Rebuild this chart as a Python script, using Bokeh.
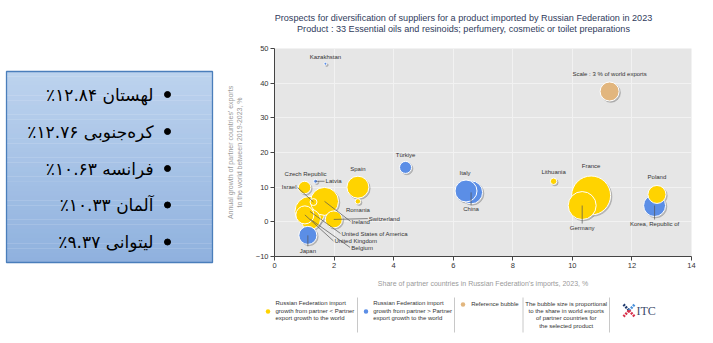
import math
from bokeh.plotting import figure
from bokeh.layouts import row, column
from bokeh.models import Range1d, ColumnDataSource, FixedTicker
from bokeh.core.properties import value
from bokeh.embed import file_html
from bokeh.resources import INLINE

# ---------------- data ----------------
countries = ["France", "Germany", "Lithuania", "Poland", "Korea, Republic of", "Italy", "China",
             "Türkiye", "Kazakhstan", "Spain", "Romania", "Latvia", "Czech Republic", "Israel",
             "Ireland", "Switzerland", "United States of America", "United Kingdom", "Belgium", "Japan"]
share_in_imports = [10.63, 10.33, 9.37, 12.84, 12.76, 6.43, 6.60,
                    4.40, 1.71, 2.80, 2.80, 1.38, 1.01, 1.31,
                    1.68, 1.99, 1.19, 1.02, 1.21, 1.12]
export_growth = [7.6, 4.7, 11.7, 7.9, 4.7, 8.9, 8.5,
                 15.7, 45.6, 10.0, 5.9, 11.7, 9.9, 5.7,
                 5.9, 0.7, 3.0, 2.0, 0.7, -3.9]
world_export_share = [12.6, 6.5, 0.35, 2.7, 4.0, 4.0, 4.4,
                      1.2, 0.07, 4.0, 0.25, 0.13, 1.3, 0.4,
                      6.5, 2.4, 7.5, 2.7, 3.3, 2.7]
import_growth_higher = [False, False, False, False, True, True, True,
                        True, True, False, False, True, False, False,
                        False, False, False, False, False, True]

ref_x, ref_y, ref_share = 11.25, 37.6, 3.0
ref_label = "Scale : 3 % of world exports"

x_ticks = [0, 2, 4, 6, 8, 10, 12, 14]
y_ticks = [-10, 0, 10, 20, 30, 40, 50]

title_lines = ["Prospects for diversification of suppliers for a product imported by Russian Federation in 2023",
               "Product : 33 Essential oils and resinoids; perfumery, cosmetic or toilet preparations"]
x_label = "Share of partner countries in Russian Federation's imports, 2023, %"
y_label = "Annual growth of partner countries' exports\nto the world between 2019-2023, %"

panel_lines = ["لهستان ۱۲.۸۴٪", "کره\u200cجنوبی ۱۲.۷۶٪", "فرانسه ۱۰.۶۳٪", "آلمان ۱۰.۳۳٪", "لیتوانی ۹.۳۷٪"]

legend_texts = [["Russian Federation import", "growth from partner < Partner", "export growth to the world"],
                ["Russian Federation import", "growth from partner > Partner", "export growth to the world"],
                ["Reference bubble"],
                ["The bubble size is proportional", "to the share in world exports",
                 "of partner countries for", "the selected product"]]

# ---------------- layout / style ----------------
YELLOW = "#FFD300"
BLUE = "#5B8EE6"
TAN = "#E2B67E"
FONT_NAME = "Liberation Sans"
FONT = value(FONT_NAME)
REF_D = 19.0  # px diameter of the 3 % reference bubble

FRAME_W, FRAME_H = 417, 208
X0, X1, Y0, Y1 = 0, 14, -10, 50
ppx = FRAME_W / (X1 - X0)
ppy = FRAME_H / (Y1 - Y0)

# label placement: (dx, dy, align, leader end offset or None) in pixels
label_layout = {
    "France": (0, -29, "center", None),
    "Germany": (0, 22, "center", (0, 18)),
    "Lithuania": (0, -9, "center", None),
    "Poland": (0, -17, "center", None),
    "Korea, Republic of": (0, 18, "center", (0, 14)),
    "Italy": (-1, -18, "center", None),
    "China": (0, 17, "center", (0, 13)),
    "Türkiye": (0, -12, "center", None),
    "Kazakhstan": (0, -7, "center", None),
    "Spain": (0, -18, "center", None),
    "Romania": (0, 9, "center", None),
    "Latvia": (10, 0, "left", (9, 0)),
    "Czech Republic": (1, -14, "center", None),
    "Israel": (-17, -15, "right", (-16, -14.5)),
    "Ireland": (27, 20.5, "left", (26, 20)),
    "Switzerland": (35, -0.8, "left", (34, -0.8)),
    "United States of America": (31.5, 22.3, "left", (30.5, 22)),
    "United Kingdom": (29.5, 26.5, "left", (28.5, 26)),
    "Belgium": (40.7, 28.7, "left", (39.5, 28)),
    "Japan": (0, 16, "center", (0, 11)),
}


def bare(fig):
    fig.outline_line_color = None
    fig.background_fill_color = "white"
    fig.border_fill_color = "white"
    return fig


# ---------------- left panel ----------------
left = bare(figure(width=220, height=343, x_range=Range1d(0, 220), y_range=Range1d(343, 0),
                   x_axis_type=None, y_axis_type=None, toolbar_location=None,
                   output_backend="svg", min_border=0, frame_align=False))
top_c = (0xBD, 0xD3, 0xEE)
bot_c = (0x8F, 0xB1, 0xDE)
n = 40
p_top, p_bot, p_l, p_r = 71, 262, 6, 212
strip_h = (p_bot - p_top) / n
tops, bots, cols = [], [], []
for i in range(n):
    t = (i + 0.5) / n
    c = tuple(int(round(top_c[k] + (bot_c[k] - top_c[k]) * t)) for k in range(3))
    tops.append(p_top + i * strip_h)
    bots.append(p_top + (i + 1) * strip_h + 0.3)
    cols.append("#%02x%02x%02x" % c)
left.quad(left=p_l, right=p_r, top=tops, bottom=bots, fill_color=cols, line_color=None)
left.quad(left=[p_l], right=[p_r], top=[p_top], bottom=[p_bot], fill_color=None,
          line_color="#4A7EBB", line_width=1.3)
row_y = [94, 131, 168, 204.5, 241.5]
left.scatter(x=[167] * 5, y=row_y, size=6, color="black")
left.text(x=[153] * 5, y=row_y, text=["\u200f" + s + "\u200f" for s in panel_lines],
          text_align="right", text_baseline="middle", text_font=value("DejaVu Sans"),
          text_font_size="17px", text_color="black")

# ---------------- title ----------------
tfig = bare(figure(width=493, height=40, x_range=Range1d(220, 713), y_range=Range1d(40, 0),
                   x_axis_type=None, y_axis_type=None, toolbar_location=None,
                   output_backend="svg", min_border=0, frame_align=False))
tfig.text(x=[463, 463], y=[17.5, 28.5], text=title_lines, text_align="center", text_baseline="middle",
          text_font=FONT, text_font_size="9.1px", text_color="#2F3B5C")

# ---------------- chart ----------------
p = figure(width=493, height=252, x_range=Range1d(X0, X1), y_range=Range1d(Y0, Y1),
           toolbar_location=None, output_backend="svg", frame_align=False,
           min_border_left=54, min_border_right=22, min_border_top=8, min_border_bottom=36)
p.outline_line_color = None
p.background_fill_color = "#E6E6E6"
p.border_fill_color = "white"
p.xaxis.ticker = FixedTicker(ticks=x_ticks)
p.yaxis.ticker = FixedTicker(ticks=y_ticks)
p.xgrid.ticker = FixedTicker(ticks=x_ticks)
p.ygrid.ticker = FixedTicker(ticks=y_ticks)
p.grid.grid_line_color = "#F2F2F2"
p.grid.grid_line_width = 1
for ax in (p.xaxis, p.yaxis):
    ax.axis_line_color = "#444444"
    ax.major_tick_line_color = "#444444"
    ax.minor_tick_line_color = None
    ax.major_tick_out = 4
    ax.major_tick_in = 0
    ax.major_label_text_font = FONT_NAME
    ax.major_label_text_font_size = "7.5px"
    ax.major_label_text_color = "#333333"
    ax.major_label_standoff = 2
    ax.axis_label_text_font = FONT_NAME
    ax.axis_label_text_font_size = "7px"
    ax.axis_label_text_font_style = "normal"
    ax.axis_label_text_color = "#9A9A9A"
p.xaxis.axis_label = x_label
p.yaxis.axis_label = y_label
p.xaxis.axis_label_standoff = 9
p.yaxis.axis_label_standoff = 10

diam = [REF_D * math.sqrt(s / ref_share) for s in world_export_share]
order = sorted(range(len(countries)), key=lambda i: -world_export_share[i])
src = ColumnDataSource(dict(
    x=[share_in_imports[i] for i in order],
    y=[export_growth[i] for i in order],
    sx=[share_in_imports[i] + 1.3 / ppx for i in order],
    sy=[export_growth[i] - 1.3 / ppy for i in order],
    d=[diam[i] for i in order],
    c=[BLUE if import_growth_higher[i] else YELLOW for i in order],
))
ref_d = REF_D
p.scatter(x=[ref_x + 1.3 / ppx], y=[ref_y - 1.3 / ppy], size=ref_d, color="#8C8C8C", alpha=0.5)
p.scatter(x=[ref_x], y=[ref_y], size=ref_d, fill_color=TAN, line_color="white", line_width=1)
p.scatter(x="sx", y="sy", size="d", color="#8C8C8C", alpha=0.45, source=src)
p.scatter(x="x", y="y", size="d", fill_color="c", line_color="white", line_width=1, source=src)

# leader lines
lx0, ly0, lx1, ly1 = [], [], [], []
for i, nm in enumerate(countries):
    lay = label_layout[nm]
    if lay[3] is not None:
        ex, ey = lay[3]
        lx0.append(share_in_imports[i])
        ly0.append(export_growth[i])
        lx1.append(share_in_imports[i] + ex / ppx)
        ly1.append(export_growth[i] - ey / ppy)
p.segment(x0=lx0, y0=ly0, x1=lx1, y1=ly1, line_color="#555555", line_width=0.7)

for align in ("center", "left", "right"):
    idx = [i for i, nm in enumerate(countries) if label_layout[nm][2] == align]
    p.text(x=[share_in_imports[i] for i in idx], y=[export_growth[i] for i in idx],
           text=[countries[i] for i in idx],
           x_offset=[label_layout[countries[i]][0] for i in idx],
           y_offset=[label_layout[countries[i]][1] for i in idx],
           text_align=align, text_baseline="middle", text_font=FONT,
           text_font_size="6px", text_color="#333333")
p.text(x=[ref_x], y=[ref_y], text=[ref_label], y_offset=-17, text_align="center",
       text_baseline="middle", text_font=FONT, text_font_size="6px", text_color="#333333")

# ---------------- legend ----------------
lg = bare(figure(width=493, height=51, x_range=Range1d(220, 713), y_range=Range1d(343, 292),
                 x_axis_type=None, y_axis_type=None, toolbar_location=None,
                 output_backend="svg", min_border=0, frame_align=False))
lg.scatter(x=[267.5, 365.5, 462.5], y=[311, 311, 304], size=4.5,
           fill_color=[YELLOW, BLUE, TAN], line_color=None)
lg.segment(x0=[357, 454, 522.5, 609], y0=[297] * 4, x1=[357, 454, 522.5, 609], y1=[332] * 4,
           line_color="#C8C8C8", line_width=1)
lg.text(x=[275] * 3, y=[302.7, 310, 317.3], text=legend_texts[0], text_align="left",
        text_baseline="middle", text_font=FONT, text_font_size="6px", text_color="#333333")
lg.text(x=[372.7] * 3, y=[302.7, 310, 317.3], text=legend_texts[1], text_align="left",
        text_baseline="middle", text_font=FONT, text_font_size="6px", text_color="#333333")
lg.text(x=[470.7], y=[303.3], text=legend_texts[2], text_align="left",
        text_baseline="middle", text_font=FONT, text_font_size="6px", text_color="#333333")
lg.text(x=[565.7] * 4, y=[303.3, 310.6, 317.9, 325.2], text=legend_texts[3], text_align="center",
        text_baseline="middle", text_font=FONT, text_font_size="6px", text_color="#333333")
# ITC logo
lg.segment(x0=[623, 628.5, 623, 628.5], y0=[304, 310, 316, 310],
           x1=[628.5, 634, 628.5, 634], y1=[310, 304, 310, 316],
           line_color=["#1F3A6E", "#4A90D9", "#D9304A", "#D9304A"], line_width=2.6, line_dash="2 1")
lg.text(x=[636], y=[310.5], text=["ITC"], text_align="left", text_baseline="middle",
        text_font=value("Liberation Serif"), text_font_size="12px", text_color="#3B4A6B")

layout = row(left, column(tfig, p, lg))
open("out.html", "w").write(file_html(layout, INLINE))
